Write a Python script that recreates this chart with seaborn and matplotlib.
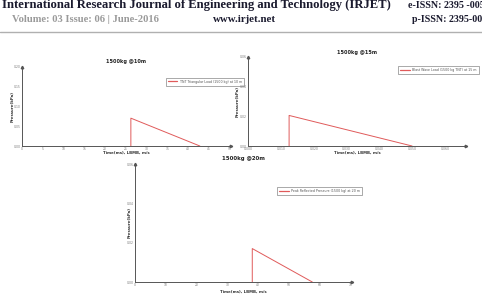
import matplotlib
matplotlib.use("Agg")
import matplotlib.pyplot as plt
import seaborn as sns
import pandas as pd

# ---------------- data ----------------
titles = ["1500kg @10m", "1500kg @15m", "1500kg @20m"]
legend_labels = [
    "TNT Triangular Load (1500 kg) at 10 m",
    "Blast Wave Load (1500 kg TNT) at 15 m",
    "Peak Reflected Pressure (1500 kg) at 20 m",
]
x_labels = ["Time(ms), LBMB, m/s", "Time(ms), LBMB, m/s", "Time(ms), LBMB, m/s"]
y_labels = ["Pressure(kPa)", "Pressure(kPa)", "Pressure(kPa)"]

time_1 = [26.2, 26.2, 42.8]
pres_1 = [0, 0.0705, 0]
xticks_1 = [0, 5, 10, 15, 20, 25, 30, 35, 40, 45, 50]
yticks_1 = [0.00, 0.05, 0.10, 0.15, 0.20]

time_2 = [12.5, 12.5, 49.9]
pres_2 = [0, 0.0206, 0]
xticks_2 = [0, 10, 20, 30, 40, 50, 60]
yticks_2 = [0.00, 0.02, 0.04, 0.06]

time_3 = [38.1, 38.1, 57.6]
pres_3 = [0, 0.017, 0]
xticks_3 = [0, 10, 20, 30, 40, 50, 60, 70]
yticks_3 = [0.00, 0.02, 0.04, 0.06]

# ---------------- style ----------------
sns.set_style("white")
plt.rcParams["font.family"] = ["DejaVu Sans"]

W, H = 482, 302
fig = plt.figure(figsize=(W / 100, H / 100), dpi=100)
fig.patch.set_facecolor("white")

def ax_px(l, t, r, b):
    return fig.add_axes([l / W, 1 - b / H, (r - l) / W, (b - t) / H])

# ---------------- header ----------------
hdr = "#1b1b2f"
fig.text(2 / W, 1 - 5.0 / H, "International Research Journal of Engineering and Technology (IRJET)",
         family="Liberation Serif", weight="bold", fontsize=9.1, color=hdr, va="center", ha="left")
fig.text(408 / W, 1 - 5.0 / H, "e-ISSN: 2395 -0056",
         family="Liberation Serif", weight="bold", fontsize=7.2, color=hdr, va="center", ha="left")
fig.text(12 / W, 1 - 19 / H, "Volume: 03 Issue: 06 | June-2016",
         family="Liberation Serif", weight="bold", fontsize=7.6, color="#9a9a9a", va="center", ha="left")
fig.text(213 / W, 1 - 19 / H, "www.irjet.net",
         family="Liberation Serif", weight="bold", fontsize=7.8, color=hdr, va="center", ha="left")
fig.text(412 / W, 1 - 19 / H, "p-ISSN: 2395-0072",
         family="Liberation Serif", weight="bold", fontsize=7.2, color=hdr, va="center", ha="left")
fig.add_artist(plt.Line2D([0, 1], [1 - 31.7 / H, 1 - 31.7 / H], transform=fig.transFigure,
                          color="#b0b0b0", lw=1.0))

line_col = "#e05a5a"
axis_col = "#555555"

panels = [
    dict(box=(22, 67, 231, 146), t=time_1, p=pres_1, xt=xticks_1, yt=yticks_1,
         xlim=(0, 50.3), ylim=(0, 0.20), title_y=62, leg=(165.7, 77.7), ylab_x=12, xlab_y=153.0, tfs=3.6),
    dict(box=(248, 57, 466, 146), t=time_2, p=pres_2, xt=xticks_2, yt=yticks_2,
         xlim=(0, 66.3), ylim=(0, 0.06), title_y=52.5, leg=(398.3, 66), ylab_x=237, xlab_y=153.0, tfs=3.6),
    dict(box=(135, 164, 352, 282), t=time_3, p=pres_3, xt=xticks_3, yt=yticks_3,
         xlim=(0, 70.5), ylim=(0, 0.06), title_y=158.5, leg=(277.3, 187.3), ylab_x=129, xlab_y=291.5, tfs=3.9),
]

for i, pn in enumerate(panels):
    l, t, r, b = pn["box"]
    ax = ax_px(l, t, r, b)
    df = pd.DataFrame({"time": pn["t"], "pressure": pn["p"]})
    sns.lineplot(data=df, x="time", y="pressure", ax=ax, color=line_col, lw=0.7,
                 sort=False, estimator=None, errorbar=None)
    ax.set_xlim(*pn["xlim"])
    ax.set_ylim(*pn["ylim"])
    ax.set_xticks(pn["xt"])
    ax.set_yticks(pn["yt"])
    if i == 1:
        ax.set_xticklabels([f"{v / 1000:.3f}" for v in pn["xt"]])
    else:
        ax.set_xticklabels([f"{v:g}" for v in pn["xt"]])
    ax.set_yticklabels([f"{v:.2f}" for v in pn["yt"]])
    ax.tick_params(axis="both", labelsize=2.2, colors=axis_col, length=1.2, width=0.4,
                   pad=1.0, direction="in", labelcolor="#777777")
    for s in ["top", "right"]:
        ax.spines[s].set_visible(False)
    for s in ["left", "bottom"]:
        ax.spines[s].set_color(axis_col)
        ax.spines[s].set_linewidth(0.7)
    ax.plot(1, 0, ">", color=axis_col, ms=1.8, transform=ax.get_yaxis_transform(), clip_on=False)
    ax.plot(0, 1, "^", color=axis_col, ms=1.8, transform=ax.get_xaxis_transform(), clip_on=False)
    ax.set_xlabel("")
    ax.set_ylabel("")
    cx = (l + r) / 2
    fig.text(cx / W, 1 - pn["title_y"] / H, titles[i], fontsize=pn["tfs"], weight="bold",
             color="#222222", ha="center", va="center")
    fig.text(cx / W, 1 - pn["xlab_y"] / H, x_labels[i], fontsize=2.8, weight="bold",
             color="#333333", ha="center", va="center")
    fig.text(pn["ylab_x"] / W, 1 - ((t + b) / 2) / H, y_labels[i], fontsize=2.8, weight="bold",
             color="#333333", ha="center", va="center", rotation=90)
    lx, ly = pn["leg"]
    handle = plt.Line2D([], [], color=line_col, lw=0.9)
    leg = ax.legend([handle], [legend_labels[i]], loc="upper left", bbox_to_anchor=(lx / W, 1 - ly / H),
                    bbox_transform=fig.transFigure, fontsize=2.3, frameon=True,
                    fancybox=False, handlelength=3.0, borderpad=0.6, handletextpad=0.8,
                    borderaxespad=0)
    leg.get_frame().set_edgecolor("#444444")
    leg.get_frame().set_linewidth(0.4)
    for txt in leg.get_texts():
        txt.set_color("#555555")

fig.savefig("out.png", dpi=100, facecolor="white")
